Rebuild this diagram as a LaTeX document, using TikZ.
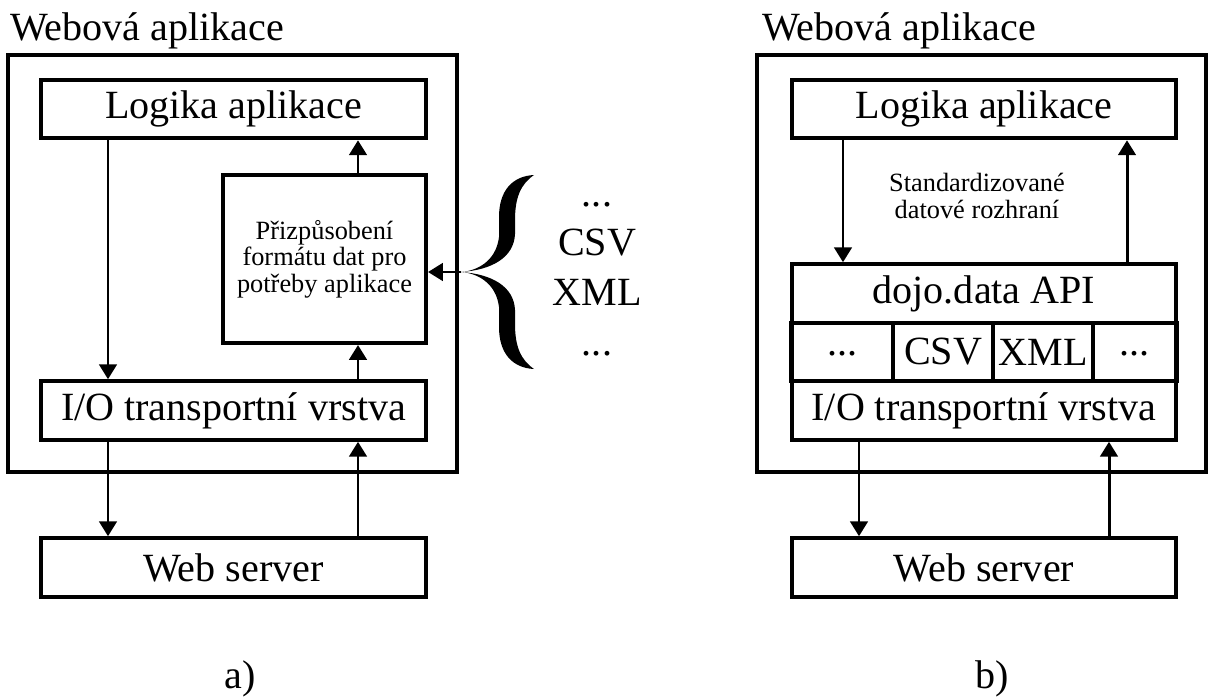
\documentclass[tikz,border=0pt]{standalone}
\usepackage{fontspec}
\setmainfont{Liberation Serif}
\usetikzlibrary{arrows.meta}
\newcommand{\mainsize}{\fontsize{22.8}{27}\selectfont}
\newcommand{\notesize}{\fontsize{15}{15}\selectfont}
\tikzstyle{layer}=[draw, line width=2.3pt, inner sep=0pt, font=\mainsize]
\tikzstyle{wide}=[minimum width=7.7cm, minimum height=1.17cm]
\tikzstyle{flow}=[-{Triangle[width=10pt,length=8.5pt]}, line width=1.7pt]
\tikzstyle{caption}=[anchor=base west, inner sep=0pt, font=\mainsize]
% upper half of the curly brace, tip at (0,0)
\newcommand{\bracehalf}{(0,0) .. controls (15,-1) and (35,-10) .. (38,-35) -- (38,-55)
  .. controls (38,-82) and (52,-96) .. (73,-97)
  .. controls (60,-88) and (54,-75) .. (54,-52) -- (54,-38)
  .. controls (53,-14) and (30,-2) .. (0,0) -- cycle}
\newcommand{\lowdots}{\raisebox{-0.06cm}[0pt][0pt]{...}}
\begin{document}
\begin{tikzpicture}[x=0.02cm, y=-0.02cm]
  \useasboundingbox (0,0) rectangle (1208,697);
  % a) formats adapted inside the application
  \node[caption] (titleA) at (10,40) {Webová aplikace};
  \node[layer, minimum width=8.98cm, minimum height=8.34cm] (appA) at (232.5,263.5) {};
  \node[layer, wide] (logicA) at (233.5,109) {Logika aplikace};
  \node[layer, minimum width=4.06cm, minimum height=3.36cm, align=center, font=\notesize] (adaptA) at (324.5,259) {Přizpůsobení\\formátu dat pro\\potřeby aplikace};
  \node[layer, wide] (ioA) at (233.5,410.5) {I/O transportní vrstva};
  \node[layer, wide] (webA) at (233.5,567.5) {Web server};
  \coordinate (downA) at (108,0);
  \coordinate (upA) at (358,0);
  \draw[flow] (logicA.south -| downA) -- (ioA.north -| downA);
  \draw[flow] (adaptA.north -| upA) -- (logicA.south -| upA);
  \draw[flow] (ioA.north -| upA) -- (adaptA.south -| upA);
  \draw[flow] (ioA.south -| downA) -- (webA.north -| downA);
  \draw[flow] (webA.north -| upA) -- (ioA.south -| upA);
  \coordinate (bracetip) at (461,272);
  \begin{scope}[shift={(bracetip)}]
    \fill \bracehalf;
    \fill[yscale=-1] \bracehalf;
  \end{scope}
  \draw[flow] (bracetip) -- (bracetip -| adaptA.east);
  \node[anchor=base, font=\mainsize] (fmt1) at (597,206) {...};
  \node[anchor=base, font=\mainsize] (fmt2) at (597,255) {CSV};
  \node[anchor=base, font=\mainsize] (fmt3) at (597,305) {XML};
  \node[anchor=base, font=\mainsize] (fmt4) at (597,355) {...};
  \node[anchor=base, font=\mainsize] (capA) at (240,688) {a)};

  % b) dojo.data
  \node[caption] (titleB) at (762,40) {Webová aplikace};
  \node[layer, minimum width=8.98cm, minimum height=8.34cm] (appB) at (981.5,263.5) {};
  \node[layer, wide] (logicB) at (984,109) {Logika aplikace};
  \node[align=center, font=\notesize] (stdB) at (977,196) {Standardizované\\datové rozhraní};
  \node[layer, wide] (apiB) at (984,293.5) {dojo.data API};
  \node[layer, minimum width=2.03cm, minimum height=1.16cm] (cell1) at (842.25,352) {\lowdots};
  \node[layer, minimum width=2cm, minimum height=1.16cm] (cell2) at (943,352) {CSV};
  \node[layer, minimum width=2cm, minimum height=1.16cm] (cell3) at (1043,352) {XML};
  \node[layer, minimum width=1.67cm, minimum height=1.16cm] (cell4) at (1134.75,352) {\lowdots};
  \node[layer, wide] (ioB) at (984,410.5) {I/O transportní vrstva};
  \node[layer, wide] (webB) at (984,567.5) {Web server};
  \coordinate (downB) at (843,0);
  \coordinate (upB) at (1127,0);
  \coordinate (sendB) at (859,0);
  \coordinate (recvB) at (1109,0);
  \draw[flow] (logicB.south -| downB) -- (apiB.north -| downB);
  \draw[flow] (apiB.north -| upB) -- (logicB.south -| upB);
  \draw[flow] (ioB.south -| sendB) -- (webB.north -| sendB);
  \draw[flow] (webB.north -| recvB) -- (ioB.south -| recvB);
  \node[anchor=base, font=\mainsize] (capB) at (992,688) {b)};
\end{tikzpicture}
\end{document}
